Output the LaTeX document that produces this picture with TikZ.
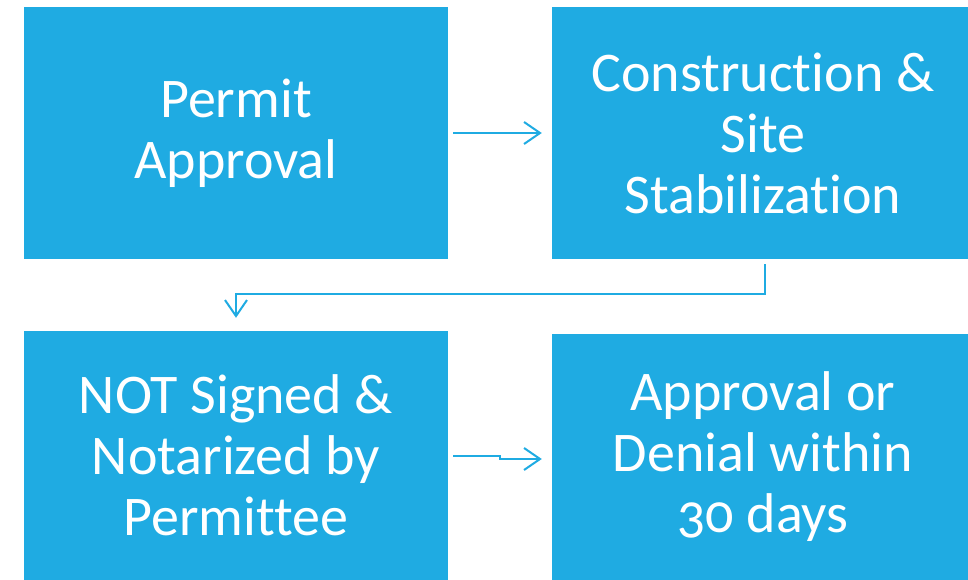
\documentclass[tikz,border=0pt]{standalone}
\usepackage{fontspec}
\setmainfont[Numbers=OldStyle, RawFeature={-liga;-clig;-dlig;-calt;-rlig}]{Carlito}
\usetikzlibrary{arrows.meta}
\definecolor{boxblue}{RGB}{31,171,226}
\begin{document}
\begin{tikzpicture}[x=1pt, y=-1pt,
        box/.style={fill=boxblue, text=white, align=center, inner sep=0pt,
            font=\fontsize{56}{61}\selectfont},
        flow/.style={draw=boxblue, line width=2pt,
            -{Straight Barb[length=16pt, width=22pt, line width=2pt]}}]
        \useasboundingbox (0,0) rectangle (968,580);
        \node[box, minimum width=424pt, minimum height=252pt] (permit) at (236,133) {Permit\\Approval};
        \node[box, minimum width=422pt, minimum height=252pt] (build) at (763,133) {Construction \&\\Site\\Stabilization};
        \node[box, minimum width=424pt, minimum height=249pt] (notice) at (236,455.5) {NOT Signed \&\\Notarized by\\Permittee};
        \node[box, minimum width=422pt, minimum height=246pt] (review) at (763,457) {Approval or\\Denial within\\30 days};
        \draw[flow] ([xshift=5pt]permit.east) -- ([xshift=-10pt]build.west);
        \draw[flow] ([xshift=1.5pt, yshift=-5pt]build.south) -- ++(0,30) -| ([yshift=13pt]notice.north);
        \draw[flow] ([xshift=5pt, yshift=-0.5pt]notice.east) -- ++(47,0) |- ([xshift=-10pt, yshift=-2pt]review.west);
\end{tikzpicture}
\end{document}
